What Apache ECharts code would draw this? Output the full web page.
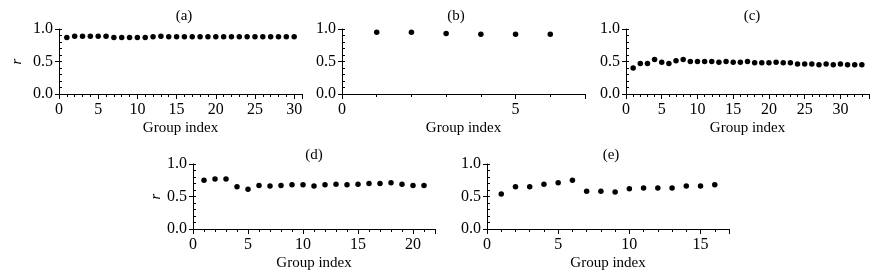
<!DOCTYPE html>
<html>
<head>
<meta charset="utf-8">
<script src="https://cdn.jsdelivr.net/npm/echarts@6/dist/echarts.min.js"></script>
<style>
html, body { margin: 0; padding: 0; background: #fff; }
#main { width: 881px; height: 280px; }
</style>
</head>
<body>
<div id="main"></div>
<script>
// 每组的相关系数 r (组序号从1开始)
var rA = [0.87, 0.89, 0.89, 0.89, 0.89, 0.89, 0.87, 0.87, 0.87, 0.87, 0.87, 0.88, 0.89, 0.88, 0.88,
          0.88, 0.88, 0.88, 0.88, 0.88, 0.88, 0.88, 0.88, 0.88, 0.88, 0.88, 0.88, 0.88, 0.88, 0.88];
var rB = [0.95, 0.95, 0.93, 0.92, 0.92, 0.92];
var rC = [0.40, 0.47, 0.47, 0.53, 0.49, 0.47, 0.51, 0.53, 0.50, 0.50, 0.50, 0.50, 0.49, 0.50, 0.49, 0.49, 0.50,
          0.48, 0.48, 0.48, 0.49, 0.48, 0.48, 0.46, 0.46, 0.46, 0.45, 0.46, 0.45, 0.46, 0.45, 0.45, 0.45];
var rD = [0.75, 0.77, 0.77, 0.65, 0.61, 0.67, 0.66, 0.67, 0.68, 0.68, 0.66, 0.68, 0.69, 0.68, 0.69,
          0.70, 0.70, 0.71, 0.69, 0.67, 0.67];
var rE = [0.54, 0.65, 0.65, 0.69, 0.71, 0.75, 0.58, 0.58, 0.57, 0.62, 0.63, 0.63, 0.63, 0.66, 0.66, 0.68];

var panelNames = ['(a)', '(b)', '(c)', '(d)', '(e)'];
var xMaxes = [31, 7, 34, 22, 17];
var yTicks = [0, 0.5, 1.0];

var FONT = "'Liberation Serif', 'Times New Roman', serif";

function indexed(arr) {
    var out = [];
    for (var i = 0; i < arr.length; i++) {
        out.push([i + 1, arr[i]]);
    }
    return out;
}

var myChart = echarts.init(document.getElementById('main'));

// 各子图的位置
var boxes = [
    {left: 59,  top: 29,  width: 243, height: 65, title: [184, 16], rGap: 34},
    {left: 342, top: 29,  width: 243, height: 65, title: [456, 16]},
    {left: 626, top: 29,  width: 243, height: 65, title: [752, 16]},
    {left: 193, top: 164, width: 242, height: 65, title: [314, 155], rGap: 29},
    {left: 487, top: 164, width: 242, height: 65, title: [611, 155]}
];
var allData = [rA, rB, rC, rD, rE];

var grid = [], xAxis = [], yAxis = [], series = [], graphic = [];

boxes.forEach(function (b, i) {
    grid.push({left: b.left, top: b.top, width: b.width, height: b.height, outerBoundsMode: 'none'});

    // 主刻度 + 标签
    xAxis.push({
        gridIndex: i, type: 'value', position: 'bottom',
        min: 0, max: xMaxes[i], interval: 5,
        axisLine: {show: true, onZero: false, lineStyle: {color: '#000', width: 1}},
        axisTick: {show: true, length: 5, lineStyle: {color: '#000'}},
        axisLabel: {
            color: '#000', fontSize: 16, fontFamily: FONT, margin: 8,
            formatter: function (v) { return v % 5 === 0 ? v : ''; }
        },
        splitLine: {show: false},
        name: 'Group index', nameLocation: 'middle', nameGap: 27,
        nameTextStyle: {color: '#000', fontSize: 15, fontFamily: FONT}
    });
    // 次刻度
    xAxis.push({
        gridIndex: i, type: 'value', position: 'bottom',
        min: 0, max: xMaxes[i], interval: 1,
        axisLine: {show: false, onZero: false},
        axisTick: {show: true, length: 3, lineStyle: {color: '#000'}},
        axisLabel: {show: false},
        splitLine: {show: false}
    });

    var yMain = {
        gridIndex: i, type: 'value', position: 'left',
        min: yTicks[0], max: yTicks[yTicks.length - 1], interval: 0.5,
        axisLine: {show: true, onZero: false, lineStyle: {color: '#000', width: 1}},
        axisTick: {show: true, length: 4, lineStyle: {color: '#000'}},
        axisLabel: {
            color: '#000', fontSize: 16, fontFamily: FONT, margin: 6,
            formatter: function (v) { return v.toFixed(1); }
        },
        splitLine: {show: false}
    };
    if (b.rGap) {
        yMain.name = 'r';
        yMain.nameLocation = 'middle';
        yMain.nameGap = b.rGap;
        yMain.nameRotate = 90;
        yMain.nameTextStyle = {color: '#000', fontSize: 15, fontFamily: FONT, fontStyle: 'italic'};
    }
    yAxis.push(yMain);
    yAxis.push({
        gridIndex: i, type: 'value', position: 'left',
        min: 0, max: 1, interval: 0.1,
        axisLine: {show: false, onZero: false},
        axisTick: {show: true, inside: true, length: 3, lineStyle: {color: '#000'}},
        axisLabel: {show: false},
        splitLine: {show: false}
    });

    series.push({
        type: 'scatter',
        xAxisIndex: i * 2, yAxisIndex: i * 2,
        symbol: 'circle', symbolSize: 5.5,
        itemStyle: {color: '#000', opacity: 1},
        silent: true,
        data: indexed(allData[i])
    });

    graphic.push({
        type: 'text', x: b.title[0], y: b.title[1],
        style: {text: panelNames[i], fill: '#000', font: '15px ' + FONT, align: 'center', verticalAlign: 'middle'}
    });
});

var option = {
    animation: false,
    grid: grid,
    xAxis: xAxis,
    yAxis: yAxis,
    series: series,
    graphic: graphic
};
myChart.setOption(option);
</script>
</body>
</html>
